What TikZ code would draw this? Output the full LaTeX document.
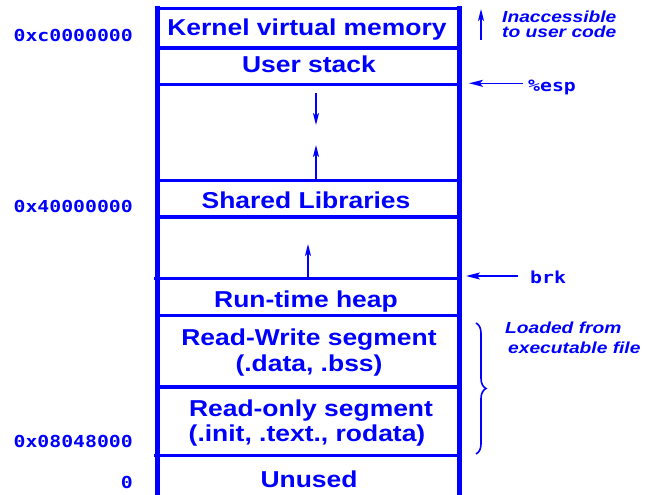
\documentclass[tikz,border=0pt]{standalone}
\usepackage{fontspec}
\usetikzlibrary{arrows.meta,decorations.pathreplacing}
\newfontfamily\boxfont[FakeStretch=1.15]{Liberation Sans}
\newfontfamily\notefont[FakeStretch=1.2]{Liberation Sans}
\newfontfamily\addrfont[FakeStretch=1.2]{DejaVu Sans Mono}
\definecolor{memblue}{RGB}{0,0,255}
\begin{document}
\begin{tikzpicture}[x=1pt,y=-1pt,
  boxtext/.style={font=\boxfont\bfseries\fontsize{23}{26}\selectfont, text=memblue, inner sep=0pt, anchor=base},
  notetext/.style={font=\notefont\bfseries\itshape\fontsize{16}{16}\selectfont, text=memblue, inner sep=0pt, anchor=base west},
  addr/.style={font=\addrfont\bfseries\fontsize{16.5}{18}\selectfont, text=memblue, inner sep=0pt, anchor=base east},
  reg/.style={font=\addrfont\bfseries\fontsize{16.5}{18}\selectfont, text=memblue, inner sep=0pt, anchor=base west},
  hline/.style={memblue, line width=3.5pt},
  vline/.style={memblue, line width=4.5pt},
  growarrow/.style={memblue, line width=1.5pt, -{Stealth[length=12pt,width=6pt,inset=3pt]}},
  pointer/.style={memblue, line width=1.5pt, -{Stealth[length=14pt,width=7pt,inset=3pt]}}]
\useasboundingbox (0,0) rectangle (646,495);

% column edges
\coordinate (tl) at (157.5,6.5);
\coordinate (bl) at (157.5,497);
\coordinate (tr) at (459.5,6.5);
\coordinate (br) at (459.5,497);
\draw[vline] (tl) -- (bl);
\draw[vline] (tr) -- (br);

% horizontal boundaries
\foreach \y/\n in {8.5/a,48/b,84.5/c,180.5/d,217/e,315.5/g,387/h}{
  \coordinate (L\n) at (157.5,\y);
  \coordinate (R\n) at (459.5,\y);
  \draw[hline] (L\n) -- (R\n);
}
\coordinate (Lf) at (154,278.5);
\coordinate (Rf) at (459.5,278.5);
\draw[hline] (Lf) -- (Rf);
\coordinate (Li) at (154,455.5);
\coordinate (Ri) at (459.5,455.5);
\draw[hline] (Li) -- (Ri);

% box labels
\node[boxtext] (kernel) at (307,35.7) {Kernel virtual memory};
\node[boxtext] (ustack) at (309,73) {User stack};
\node[boxtext] (shlib) at (306,208) {Shared Libraries};
\node[boxtext] (heap) at (306,307.5) {Run-time heap};
\node[boxtext] (rw1) at (309,345) {Read-Write segment};
\node[boxtext] (rw2) at (309,371.5) {(.data, .bss)};
\node[boxtext] (ro1) at (311,416.7) {Read-only segment};
\node[boxtext] (ro2) at (307,441.5) {(.init, .text., rodata)};
\node[boxtext] (unused) at (309,487) {Unused};

% growth arrows
\coordinate (stackA) at (316,93);
\coordinate (stackB) at (316,125);
\draw[growarrow] (stackA) -- (stackB);
\coordinate (shA) at (316,180.5);
\coordinate (shB) at (316,145);
\draw[growarrow] (shA) -- (shB);
\coordinate (hpA) at (308,278.5);
\coordinate (hpB) at (308,244);
\draw[growarrow] (hpA) -- (hpB);

% addresses
\node[addr] (a1) at (133,41.7) {0xc0000000};
\node[addr] (a2) at (133,212) {0x40000000};
\node[addr] (a3) at (133,447) {0x08048000};
\node[addr] (a4) at (133,488) {0};

% right side
\coordinate (inA) at (481,40);
\coordinate (inB) at (481,9);
\draw[growarrow] (inA) -- (inB);
\node[notetext] (inacc1) at (502,23) {Inaccessible};
\node[notetext] (inacc2) at (502,37.5) {to user code};

\node[reg] (esp) at (528,92) {\%esp};
\coordinate (espA) at (523,83.3);
\coordinate (espB) at (469,83.3);
\draw[pointer] (espA) -- (espB);

\node[reg] (brk) at (530,283) {brk};
\coordinate (brkA) at (518,276);
\coordinate (brkB) at (466,276);
\draw[pointer] (brkA) -- (brkB);

\coordinate (brA) at (476,323);
\coordinate (brB) at (476,454);
\draw[memblue, line width=1.6pt, decorate, decoration={brace, amplitude=10pt}] (brA) -- (brB);
\node[notetext] (load1) at (505,333) {Loaded from};
\node[notetext] (load2) at (508,353.5) {executable file};
\end{tikzpicture}
\end{document}
